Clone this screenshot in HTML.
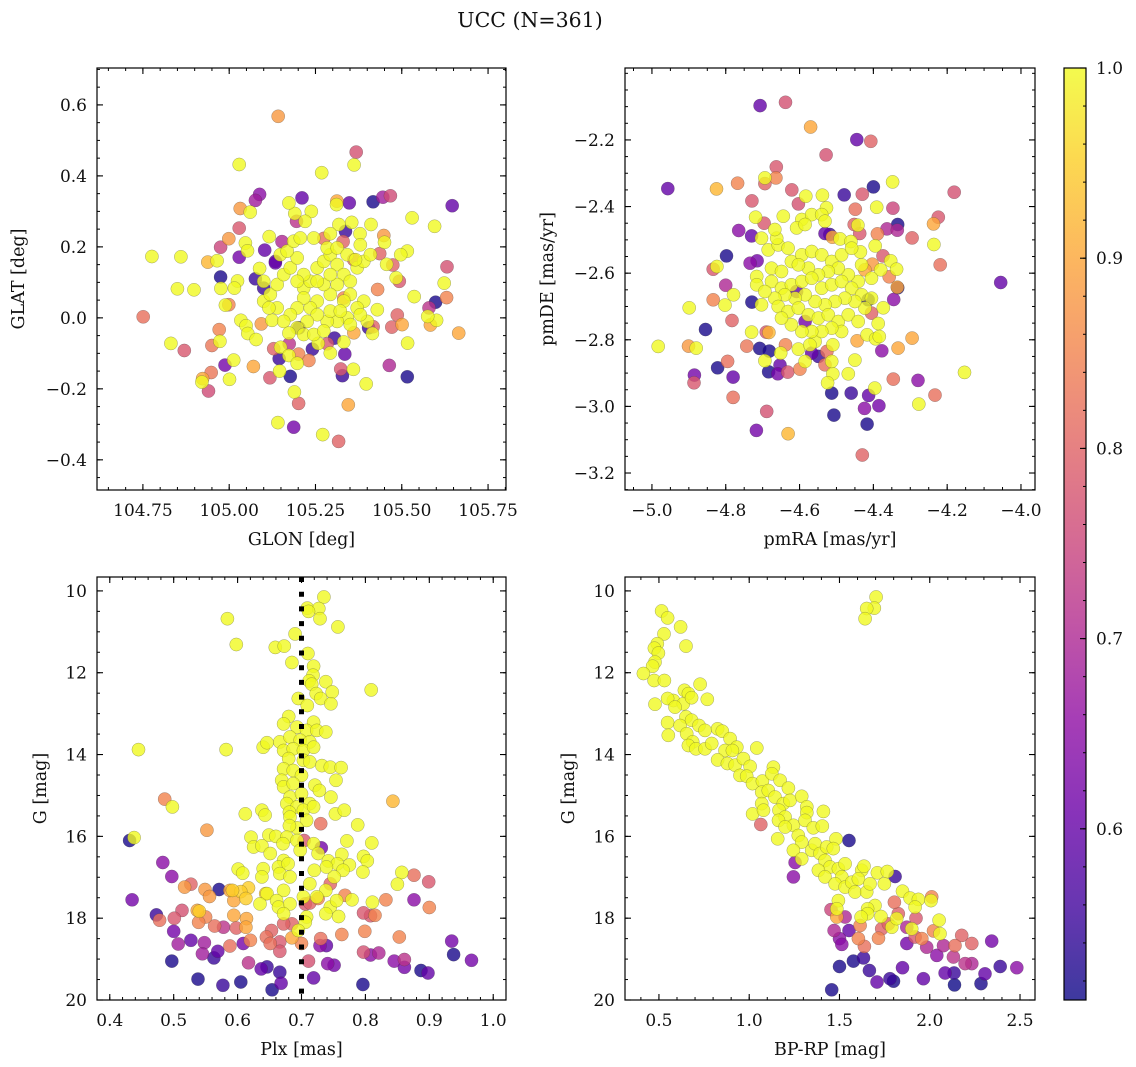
<!DOCTYPE html>
<html><head><meta charset="utf-8"><title>UCC (N=361)</title>
<style>
html,body{margin:0;padding:0;background:#fff;}
svg{display:block;font-family:"DejaVu Serif","Liberation Serif",serif;}
</style></head>
<body>
<svg id="fig" xmlns="http://www.w3.org/2000/svg" width="1136" height="1067" viewBox="0 0 1136 1067">
<text x="530" y="27" font-size="20.5" text-anchor="middle" fill="#111">UCC (N=361)</text>
</svg>
<script>
// ---- data: [x, y, membership probability] ----
const glonGlatProb = [
[105.142,0.568,.88],[105.368,0.467,.77],[105.029,0.432,1],[105.362,0.431,1],[105.268,0.409,1],[105.088,0.348,.65],[105.076,0.331,.68],[105.211,0.338,.6],[105.348,0.324,.6],[105.417,0.327,.52],[105.445,0.340,.68],[105.467,0.344,.76],[105.646,0.316,.6],[105.032,0.308,.88],[105.061,0.298,1],[105.530,0.282,1],[105.595,0.258,1],[105.029,0.253,.78],[104.999,0.223,.88],[104.975,0.199,.75],[105.029,0.171,.62],[104.776,0.173,1],[104.860,0.172,1],[104.938,0.157,.92],[104.965,0.161,1],[104.975,0.115,.52],[104.850,0.082,1],[104.898,0.079,1],[104.751,0.003,.82],[104.831,-0.072,1],[104.870,-0.092,.78],[104.971,-0.033,.85],[104.973,-0.066,1],[104.950,-0.078,.83],[104.988,-0.133,.62],[105.013,-0.119,1],[104.948,-0.154,.83],[104.923,-0.171,.9],[104.921,-0.181,1],[104.940,-0.206,.76],[105.001,-0.173,1],[105.070,-0.137,.9],[105.118,-0.169,.78],[105.146,-0.150,1],[105.177,-0.165,.52],[105.189,-0.209,1],[105.201,-0.241,.8],[105.141,-0.295,1],[105.187,-0.308,.62],[105.271,-0.329,1],[105.317,-0.348,.8],[105.345,-0.245,.9],[105.328,-0.163,.55],[105.323,-0.144,.78],[105.360,-0.145,1],[105.397,-0.186,1],[105.464,-0.134,.7],[105.516,-0.166,.52],[105.517,-0.071,1],[105.665,-0.043,.9],[105.583,-0.020,.9],[105.601,-0.007,1],[105.575,0.004,1],[105.579,0.028,.72],[105.598,0.044,.52],[105.630,0.057,.85],[105.536,0.060,1],[105.623,0.098,1],[105.631,0.144,.77],[105.487,0.008,.8],[105.501,-0.019,.9],[105.471,-0.026,.8],[105.430,0.080,.85],[105.429,0.023,1],[105.493,0.103,.78],[105.484,0.113,1],[105.474,0.149,.8],[105.456,0.151,1],[105.516,0.188,1],[105.497,0.178,1],[105.436,0.181,.8],[105.448,0.232,.88],[105.450,0.213,1],[105.411,0.263,1],[105.379,0.237,1],[105.355,0.269,1],[105.330,0.215,.8],[105.312,0.329,.9],[105.311,0.319,1],[105.318,0.263,1],[105.274,0.224,.82],[105.293,0.237,1],[105.238,0.300,1],[105.190,0.294,1],[105.173,0.324,1],[105.220,0.272,1],[105.195,0.272,.72],[105.153,0.215,.7],[105.116,0.229,1],[105.047,0.211,1],[105.053,0.189,1],[105.103,0.191,.6],[105.134,0.159,.6],[105.088,0.139,1],[105.076,0.110,.55],[105.024,0.104,1],[105.015,0.084,1],[104.976,0.083,1],[104.989,0.036,1],[104.999,0.037,.85],[105.034,-0.007,1],[105.049,-0.022,1],[105.054,-0.044,1],[105.078,-0.061,1],[105.093,-0.017,.88],[105.124,-0.007,1],[105.129,-0.087,.8],[105.149,-0.083,1],[105.174,-0.073,.72],[105.145,-0.115,.55],[105.173,-0.106,1],[105.197,-0.128,1],[105.201,-0.102,.85],[105.231,-0.120,.85],[105.241,-0.088,.55],[105.258,-0.072,1],[105.284,-0.073,.78],[105.293,-0.099,1],[105.305,-0.057,.55],[105.332,-0.068,1],[105.335,-0.102,.6],[105.361,-0.042,.9],[105.415,-0.044,1],[105.417,-0.025,.8],[105.400,-0.010,1],
[105.100,0.047,1],[105.119,0.066,1],[105.139,0.094,1],[105.158,0.122,1],[105.177,0.141,1],[105.197,0.169,1],[105.216,0.084,1],[105.235,0.103,1],[105.255,0.141,1],[105.274,0.159,1],[105.293,0.178,1],[105.313,0.150,1],[105.332,0.122,1],[105.351,0.103,1],[105.371,0.141,1],[105.390,0.159,1],[105.409,0.178,1],[105.390,0.047,1],[105.371,0.028,1],[105.351,0.066,1],[105.332,0.047,1],[105.313,0.094,1],[105.293,0.066,1],[105.274,0.094,1],[105.255,0.047,1],[105.235,0.028,1],[105.216,0.056,1],[105.197,0.028,1],[105.177,0.009,1],[105.158,-0.010,1],[105.139,0.028,1],[105.115,0.028,1],[105.100,0.103,1],[105.148,0.178,1],[105.168,0.188,1],[105.187,0.216,1],[105.206,0.225,1],[105.245,0.225,1],[105.284,0.197,1],[105.313,0.197,1],[105.342,0.178,1],[105.366,0.164,1],[105.380,0.206,1],[105.342,0.000,1],[105.313,-0.010,1],[105.284,-0.010,1],[105.255,0.009,1],[105.226,-0.010,1],[105.197,-0.028,1],[105.173,-0.043,1],[105.216,-0.047,1],[105.245,-0.047,1],[105.274,-0.037,1],[105.293,0.019,1],[105.322,0.019,1],[105.351,-0.019,1],[105.380,0.009,1],[105.216,0.122,1],[105.197,0.103,1],[105.255,0.103,1],[105.293,0.122,1],
[105.134,0.155,.6],[105.100,0.084,.55],[105.202,-0.028,.55],[105.404,-0.028,.55],[105.337,0.244,.55],[105.361,0.164,.8],[105.332,0.056,.85]
];
const pmraPmdeProb = [
[-4.707,-2.097,.6],[-4.638,-2.087,.77],[-4.570,-2.161,.9],[-4.445,-2.199,.6],[-4.407,-2.204,.8],[-4.528,-2.245,.77],[-4.663,-2.281,.78],[-4.957,-2.346,.6],[-4.825,-2.347,.92],[-4.768,-2.330,.85],[-4.694,-2.314,1],[-4.664,-2.314,.85],[-4.694,-2.331,.8],[-4.621,-2.350,.78],[-4.583,-2.369,1],[-4.538,-2.366,1],[-4.479,-2.365,.55],[-4.430,-2.363,.78],[-4.400,-2.341,.52],[-4.348,-2.326,1],[-4.181,-2.357,.77],[-4.729,-2.383,.78],[-4.603,-2.392,.77],[-4.527,-2.404,1],[-4.449,-2.408,.82],[-4.391,-2.402,1],[-4.347,-2.405,.75],[-4.224,-2.432,.78],[-4.237,-2.452,.9],[-4.236,-2.514,1],[-4.219,-2.575,.82],[-4.295,-2.494,.8],[-4.055,-2.628,.6],[-4.719,-2.432,1],[-4.696,-2.450,.78],[-4.765,-2.472,.65],[-4.730,-2.488,.6],[-4.798,-2.548,.52],[-4.834,-2.588,.78],[-4.824,-2.580,1],[-4.734,-2.570,.65],[-4.715,-2.563,.62],[-4.800,-2.636,.7],[-4.729,-2.687,.52],[-4.834,-2.680,.85],[-4.802,-2.696,1],[-4.779,-2.665,1],[-4.899,-2.704,1],[-4.783,-2.742,.8],[-4.855,-2.769,.52],[-4.983,-2.820,1],[-4.901,-2.819,.88],[-4.880,-2.825,1],[-4.822,-2.884,.52],[-4.795,-2.865,.82],[-4.885,-2.906,.62],[-4.886,-2.929,.78],[-4.780,-2.912,.6],[-4.780,-2.973,.82],[-4.689,-3.015,.77],[-4.717,-3.072,.62],[-4.631,-3.082,.92],[-4.743,-2.819,.83],[-4.708,-2.826,.52],[-4.682,-2.834,.52],[-4.694,-2.863,1],[-4.684,-2.896,.52],[-4.653,-2.876,.6],[-4.659,-2.902,.62],[-4.632,-2.897,.78],[-4.599,-2.888,.85],[-4.638,-2.815,.85],[-4.651,-2.840,1],[-4.730,-2.777,1],[-4.690,-2.777,.78],[-4.683,-2.778,.92],[-4.513,-2.960,.52],[-4.507,-3.026,.52],[-4.460,-2.960,.55],[-4.413,-2.967,.6],[-4.396,-2.945,1],[-4.424,-3.006,.65],[-4.385,-2.998,.62],[-4.417,-3.053,.52],[-4.430,-3.146,.8],[-4.346,-2.918,.82],[-4.279,-2.922,.65],[-4.277,-2.993,1],[-4.233,-2.966,.82],[-4.153,-2.898,1],[-4.333,-2.825,.9],[-4.295,-2.795,.9],[-4.377,-2.833,.65],[-4.345,-2.679,.65],[-4.334,-2.644,.52],[-4.335,-2.642,.9],[-4.373,-2.704,1],[-4.353,-2.563,1],[-4.337,-2.588,1],[-4.357,-2.611,.85],[-4.374,-2.548,.78],[-4.380,-2.590,1],[-4.403,-2.573,.88],[-4.423,-2.590,.9],[-4.389,-2.482,.85],[-4.334,-2.454,.52],[-4.363,-2.467,.7],[-4.335,-2.471,.7],[-4.437,-2.481,.78],[-4.452,-2.454,.8],[-4.442,-2.456,1],[-4.518,-2.484,.55],[-4.531,-2.481,.6],[-4.511,-2.492,.9],[-4.490,-2.497,1],[-4.461,-2.505,1],[-4.435,-2.536,1],[-4.395,-2.518,1],[-4.444,-2.803,.9],[-4.417,-2.785,1],[-4.394,-2.797,1],[-4.384,-2.790,1],[-4.450,-2.861,1],[-4.468,-2.902,1],[-4.510,-2.902,1],[-4.524,-2.929,1],[-4.513,-2.865,1],[-4.531,-2.875,.82],[-4.549,-2.850,.55],[-4.567,-2.840,.6],[-4.585,-2.865,1],[-4.603,-2.828,1],[-4.558,-2.805,1],[-4.572,-2.815,1],[-4.510,-2.815,1],[-4.526,-2.835,.82],[-4.387,-2.751,1],[-4.405,-2.720,.8],
[-4.685,-2.530,1],[-4.658,-2.515,1],[-4.631,-2.525,1],[-4.662,-2.495,1],[-4.703,-2.495,1],[-4.667,-2.469,1],[-4.644,-2.429,1],[-4.594,-2.439,1],[-4.567,-2.424,1],[-4.540,-2.424,1],[-4.608,-2.464,1],[-4.585,-2.454,1],[-4.531,-2.444,1],[-4.676,-2.585,1],[-4.649,-2.595,1],[-4.622,-2.565,1],[-4.594,-2.545,1],[-4.567,-2.535,1],[-4.540,-2.545,1],[-4.513,-2.565,1],[-4.486,-2.545,1],[-4.459,-2.525,1],[-4.432,-2.575,1],[-4.405,-2.615,1],[-4.441,-2.625,1],[-4.468,-2.605,1],[-4.495,-2.585,1],[-4.522,-2.595,1],[-4.549,-2.605,1],[-4.576,-2.585,1],[-4.603,-2.575,1],[-4.716,-2.610,1],[-4.716,-2.635,1],[-4.676,-2.625,1],[-4.649,-2.645,1],[-4.622,-2.635,1],[-4.594,-2.625,1],[-4.567,-2.615,1],[-4.540,-2.645,1],[-4.513,-2.635,1],[-4.486,-2.625,1],[-4.459,-2.645,1],[-4.432,-2.665,1],[-4.405,-2.675,1],[-4.423,-2.705,1],[-4.450,-2.685,1],[-4.477,-2.675,1],[-4.504,-2.685,1],[-4.531,-2.695,1],[-4.558,-2.685,1],[-4.585,-2.665,1],[-4.612,-2.675,1],[-4.640,-2.665,1],[-4.667,-2.675,1],[-4.694,-2.655,1],[-4.703,-2.695,1],[-4.658,-2.700,1],[-4.631,-2.715,1],[-4.603,-2.705,1],[-4.576,-2.725,1],[-4.549,-2.735,1],[-4.522,-2.725,1],[-4.495,-2.745,1],[-4.468,-2.725,1],[-4.441,-2.745,1],[-4.486,-2.775,1],[-4.513,-2.765,1],[-4.540,-2.775,1],[-4.567,-2.775,1],[-4.594,-2.775,1],[-4.622,-2.755,1],[-4.649,-2.735,1],
[-4.608,-2.655,.6],[-4.414,-2.680,.52],[-4.585,-2.745,.62]
];
const plxGmagProb = [
[0.735,10.15,1],[0.709,10.42,1],[0.727,10.43,1],[0.711,10.50,1],[0.729,10.68,1],[0.757,10.88,1],[0.690,11.05,1],[0.584,10.68,1],[0.598,11.31,1],[0.659,11.38,1],[0.673,11.35,1],[0.685,11.75,1],[0.710,11.53,1],[0.719,11.84,1],[0.718,12.06,1],[0.712,12.20,1],[0.738,12.22,1],[0.716,12.28,1],[0.748,12.47,1],[0.723,12.51,1],[0.730,12.63,1],[0.746,12.76,1],[0.695,12.63,1],[0.709,12.80,1],[0.809,12.42,1],
[0.680,13.07,1],[0.719,13.21,1],[0.672,13.25,1],[0.693,13.33,1],[0.708,13.41,1],[0.724,13.41,1],[0.738,13.45,1],[0.666,13.69,1],[0.682,13.57,1],[0.698,13.65,1],[0.713,13.69,1],[0.640,13.82,1],[0.646,13.71,1],[0.672,13.90,1],[0.687,13.86,1],[0.703,13.90,1],[0.719,13.82,1],[0.680,14.10,1],[0.703,14.14,1],[0.713,14.18,1],[0.732,14.27,1],[0.745,14.31,1],[0.762,14.32,1],[0.672,14.35,1],[0.687,14.39,1],[0.700,14.51,1],[0.721,14.75,1],[0.728,14.88,1],[0.754,14.63,1],[0.669,14.63,1],[0.672,14.79,1],[0.687,14.71,1],[0.682,15.04,1],[0.700,14.96,1],[0.713,15.20,1],[0.746,15.04,1],[0.677,15.20,1],[0.693,15.28,1],[0.703,15.36,1],[0.719,15.28,1],[0.681,15.41,1],[0.682,15.53,1],[0.708,15.61,1],[0.612,15.45,1],[0.638,15.36,1],[0.643,15.48,1],[0.753,15.45,1],[0.767,15.36,1],[0.693,15.79,1],[0.681,15.74,1],[0.788,15.72,1],[0.621,16.02,1],[0.649,15.97,1],[0.660,16.00,1],[0.677,16.02,1],[0.693,16.10,1],[0.625,16.26,1],[0.638,16.23,1],[0.651,16.42,1],[0.671,16.18,1],[0.698,16.34,1],[0.719,16.18,1],[0.726,16.42,1],[0.742,16.60,1],[0.771,16.11,1],[0.810,16.16,1],[0.763,16.44,1],[0.797,16.49,1],[0.803,16.60,1],[0.775,16.70,1],[0.756,16.67,1],[0.765,16.83,1],[0.751,16.99,1],[0.739,16.75,1],[0.720,16.83,1],[0.713,17.16,1],[0.672,16.59,1],[0.664,16.75,1],[0.679,16.67,1],[0.640,16.79,1],[0.638,16.99,1],[0.666,16.91,1],[0.682,16.99,1],[0.601,16.80,1],[0.608,16.90,1],[0.672,17.32,1],[0.646,17.40,1],[0.661,17.57,1],[0.703,17.48,1],[0.738,17.32,1],[0.724,17.48,1],[0.745,17.73,1],[0.755,17.57,1],[0.779,17.55,1],[0.796,16.87,1],[0.857,16.88,1],[0.850,17.17,1],[0.635,17.65,1],[0.664,17.73,1],[0.682,17.65,1],[0.672,17.89,1],[0.708,17.97,1],[0.706,18.10,1],[0.695,18.30,1],[0.738,17.89,1],[0.758,17.96,1],[0.811,17.61,1],[0.644,17.40,.95],[0.617,17.26,.95],[0.605,17.35,.95],[0.592,17.32,.95],[0.613,17.52,.95],[0.594,17.57,.9],[0.540,17.83,.95],[0.843,15.14,.92],
[0.445,13.88,1],[0.582,13.88,1],[0.486,15.09,.85],[0.498,15.28,1],[0.552,15.85,.88],[0.431,16.10,.52],[0.438,16.03,1],[0.483,16.64,.65],[0.497,16.98,.65],[0.517,17.24,.88],[0.527,17.17,.8],[0.571,17.30,.52],[0.549,17.30,.88],[0.556,17.47,.88],[0.588,17.32,.9],[0.435,17.55,.62],[0.473,17.92,.55],[0.478,18.05,.82],[0.501,18.00,.78],[0.513,17.81,.77],[0.537,17.81,.9],[0.550,17.97,.85],[0.539,18.10,.85],[0.564,18.19,.82],[0.578,18.22,.72],[0.598,18.24,.8],[0.594,17.93,.9],[0.614,18.01,.9],[0.613,18.22,.9],[0.500,18.32,.62],[0.507,18.63,.68],[0.527,18.54,.6],[0.548,18.60,.68],[0.545,18.87,.68],[0.569,18.81,.6],[0.563,18.97,.55],[0.497,19.05,.52],[0.538,19.49,.52],[0.577,19.64,.55],[0.605,19.56,.52],[0.617,19.09,.72],[0.637,19.24,.6],[0.646,19.19,.55],[0.666,19.32,.55],[0.654,19.75,.52],[0.668,19.59,.6],[0.588,18.68,.82],[0.609,18.62,.62],[0.620,18.54,.85],[0.645,18.46,.82],[0.651,18.62,.82],[0.666,18.58,.78],[0.666,18.81,.78],[0.685,18.48,.9],[0.700,18.62,.85],[0.706,17.65,.78],[0.713,17.63,.8],[0.704,16.10,.78],[0.731,16.28,.62],[0.730,15.69,.82],[0.711,19.05,.77],[0.719,19.46,.6],[0.730,18.50,.82],[0.729,18.67,.65],[0.739,18.67,.6],[0.741,19.11,.65],[0.751,19.15,.62],[0.763,18.40,.85],[0.799,18.32,.85],[0.797,18.83,.77],[0.808,18.90,.65],[0.821,18.85,.7],[0.796,19.62,.52],[0.845,19.05,.65],[0.861,19.01,.72],[0.861,19.20,.62],[0.853,18.46,.85],[0.887,19.28,.52],[0.898,19.34,.6],[0.935,18.56,.62],[0.938,18.89,.52],[0.966,19.03,.62],[0.876,17.55,.65],[0.876,16.95,.82],[0.899,17.11,.78],[0.900,17.74,.85],[0.832,17.55,.85],[0.815,17.93,.85],[0.808,17.94,.78],[0.797,17.87,.78],[0.768,17.44,.85],[0.745,17.16,.8],[0.726,17.52,.85],[0.685,18.14,.8],[0.672,18.14,.8],[0.653,18.30,.8]
];
const bprpGmagProb = [
[0.515,10.49,1],[0.548,10.66,1],[0.620,10.88,1],[0.528,11.05,1],[0.650,11.35,1],[0.491,11.29,1],[0.475,11.40,1],[0.497,11.52,1],[0.478,11.74,1],[0.465,11.84,1],[0.414,12.02,1],[0.473,12.19,1],[0.530,12.19,1],[0.478,12.77,1],[0.728,12.28,1],[0.641,12.43,1],[0.663,12.51,1],[0.580,12.68,1],[0.548,12.63,1],[0.635,12.76,1],[0.681,12.61,1],[0.768,12.65,1],[0.589,12.84,1],[0.548,13.22,1],[0.650,13.08,1],[0.617,13.29,1],[0.552,13.53,1],[0.681,13.16,1],[0.722,13.29,1],[0.755,13.41,1],[0.654,13.49,1],[0.687,13.69,1],[0.663,13.78,1],[0.705,13.86,1],[0.755,13.86,1],[0.792,13.73,1],[0.825,13.37,1],[0.851,13.43,1],[0.894,13.61,1],[0.931,13.82,1],[0.866,13.90,1],[0.907,13.90,1],[0.825,14.13,1],[0.879,14.22,1],[0.922,14.26,1],[0.968,14.10,1],[1.005,14.29,1],[0.949,14.51,1],[0.986,14.53,1],[1.042,13.84,1],[1.018,14.71,1],[1.073,14.65,1],[1.134,14.31,1],[1.125,14.47,1],[1.171,14.63,1],[1.069,14.92,1],[1.106,14.88,1],[1.143,15.04,1],[1.217,14.82,1],[1.189,15.20,1],[1.069,15.20,1],[1.019,15.45,1],[1.079,15.36,1],[1.165,15.36,1],[1.226,15.12,1],[1.291,15.02,1],[1.319,15.28,1],[1.319,15.42,1],[1.411,15.39,1],[1.199,15.53,1],[1.162,15.61,1],[1.245,15.73,1],[1.199,15.77,1],[1.309,15.61,1],[1.355,15.79,1],[1.405,15.75,1],[1.158,16.06,1],[1.272,15.98,1],[1.291,16.14,1],[1.245,16.34,1],[1.291,16.55,1],[1.346,16.34,1],[1.365,16.18,1],[1.392,16.42,1],[1.429,16.26,1],[1.481,16.06,1],[1.466,16.30,1],[1.420,16.59,1],[1.448,16.75,1],[1.383,16.83,1],[1.420,16.99,1],[1.494,16.79,1],[1.531,16.67,1],[1.513,16.99,1],[1.476,17.16,1],[1.531,17.24,1],[1.568,17.12,1],[1.586,17.36,1],[1.623,16.83,1],[1.636,16.73,1],[1.605,17.04,1],[1.651,17.36,1],[1.669,17.16,1],[1.710,16.89,1],[1.749,17.16,1],[1.765,16.86,1],[1.697,17.69,1],[1.656,17.77,1],[1.730,17.96,1],[1.790,18.22,1],[1.817,18.01,1],[1.849,17.34,1],[1.891,17.51,1],[1.937,17.54,1],[1.919,17.73,1],[2.007,17.57,1],[2.052,18.05,1],[1.900,18.26,1],[2.057,18.38,1],[1.656,17.89,1],[1.620,17.97,1],[1.494,17.57,1],[1.485,17.97,.9],[1.485,17.77,1],
[1.703,10.15,1],[1.693,10.42,1],[1.651,10.43,1],[1.642,10.68,1],
[1.064,15.71,.8],[1.553,16.10,.52],[1.254,16.64,.65],[1.245,16.99,.65],[1.808,16.98,.55],[1.453,17.79,.75],[1.531,17.97,.7],[1.470,18.30,.7],[1.500,18.50,.65],[1.513,18.64,.65],[1.553,18.30,.6],[1.605,18.50,.85],[1.638,18.69,.82],[1.614,18.18,.85],[1.716,18.49,.85],[1.734,18.26,.8],[1.771,18.14,.8],[1.804,17.61,.82],[1.826,17.89,.8],[1.873,18.22,.7],[1.919,18.46,.78],[1.924,18.00,.78],[1.956,18.50,.85],[2.021,18.31,.85],[2.011,17.48,.85],[1.873,18.62,.62],[1.983,18.71,.7],[2.039,18.91,.65],[2.076,18.67,.7],[2.131,18.95,.72],[2.140,18.67,.82],[2.177,18.42,.8],[2.233,18.62,.8],[2.196,19.11,.72],[2.233,19.11,.7],[2.343,18.56,.62],[2.306,19.36,.6],[2.390,19.18,.55],[2.482,19.21,.65],[2.284,19.60,.52],[2.137,19.63,.5],[2.135,19.34,.55],[2.085,19.34,.6],[1.965,19.48,.6],[1.849,19.21,.6],[1.799,19.54,.52],[1.780,19.48,.55],[1.708,19.56,.6],[1.666,19.28,.55],[1.633,18.97,.55],[1.577,19.05,.52],[1.500,19.18,.52],[1.457,19.75,.52]
];
// tick values / labels
const glonTicks = [104.75,105.00,105.25,105.50,105.75];
const glonTickLabels = ['104.75','105.00','105.25','105.50','105.75'];
const glatTicks = [-0.4,-0.2,0.0,0.2,0.4,0.6];
const glatTickLabels = ['\u22120.4','\u22120.2','0.0','0.2','0.4','0.6'];
const pmraTicks = [-5.0,-4.8,-4.6,-4.4,-4.2,-4.0];
const pmraTickLabels = ['\u22125.0','\u22124.8','\u22124.6','\u22124.4','\u22124.2','\u22124.0'];
const pmdeTicks = [-3.2,-3.0,-2.8,-2.6,-2.4,-2.2];
const pmdeTickLabels = ['\u22123.2','\u22123.0','\u22122.8','\u22122.6','\u22122.4','\u22122.2'];
const plxTicks = [0.4,0.5,0.6,0.7,0.8,0.9,1.0];
const plxTickLabels = ['0.4','0.5','0.6','0.7','0.8','0.9','1.0'];
const gTicks = [10,12,14,16,18,20];
const gTickLabels = ['10','12','14','16','18','20'];
const bprpTicks = [0.5,1.0,1.5,2.0,2.5];
const bprpTickLabels = ['0.5','1.0','1.5','2.0','2.5'];
const cbarTicks = [0.6,0.7,0.8,0.9,1.0];
const cbarTickLabels = ['0.6','0.7','0.8','0.9','1.0'];
const plxCut = 0.7;
const cMin = 0.51, cMax = 1.0;

const NS = 'http://www.w3.org/2000/svg';
const svg = document.getElementById('fig');
function mk(tag, attrs, parent){
  const e = document.createElementNS(NS, tag);
  for (const k in attrs) e.setAttribute(k, attrs[k]);
  (parent||svg).appendChild(e);
  return e;
}
const plasma = [[13,8,135],[65,4,157],[106,0,168],[143,13,164],[177,42,144],[204,71,120],[225,100,98],[242,132,75],[252,166,54],[252,206,37],[240,249,33]];
function cmap(v){
  let t = (v - cMin)/(cMax - cMin); t = Math.max(0, Math.min(1, t));
  const f = t*10, i = Math.min(9, Math.floor(f)), r = f - i;
  const a = plasma[i], b = plasma[i+1];
  return 'rgb(' + [0,1,2].map(k => Math.round(a[k] + (b[k]-a[k])*r)).join(',') + ')';
}
const TICK_FS = 17, TITLE_FS = 17.5;

function panel(o){
  const g = mk('g', {});
  
  
  const sx = v => o.L + (v - o.dx0)/(o.dx1 - o.dx0)*(o.R - o.L);
  const sy = v => o.B - (v - o.dy0)/(o.dy1 - o.dy0)*(o.B - o.T);
  const cp = 'clip-' + o.name;
  const cl = mk('clipPath', {id: cp}, g);
  mk('rect', {x:o.L, y:o.T, width:o.R-o.L, height:o.B-o.T}, cl);
  const pg = mk('g', {'clip-path':'url(#'+cp+')'}, g);
  
  
  const pts = o.pts.map((p,i)=>({p,i})).sort((a,b)=>a.p[2]-b.p[2] || a.i-b.i);
  pts.forEach(({p}) => {
    const c = mk('circle', {cx: sx(p[0]).toFixed(1), cy: sy(p[1]).toFixed(1), r: 6.6, fill: cmap(p[2]), 'fill-opacity': 0.8, stroke: 'rgba(60,60,60,0.45)', 'stroke-width': 0.5}, pg);
    
    
  });
  if (o.extra) o.extra(g, sx, sy);
  const fr = mk('rect', {x:o.L, y:o.T, width:o.R-o.L, height:o.B-o.T, fill:'none', stroke:'#000', 'stroke-width':1.2}, g);
  
  
  const lo = Math.ceil(o.dx0/o.xm - 1e-9), hi = Math.floor(o.dx1/o.xm + 1e-9);
  for (let k = lo; k <= hi; k++){ const x = sx(k*o.xm);
    mk('line', {x1:x, x2:x, y1:o.B, y2:o.B-3, stroke:'#000', 'stroke-width':1}, g);
    mk('line', {x1:x, x2:x, y1:o.T, y2:o.T+3, stroke:'#000', 'stroke-width':1}, g); }
  const ya = Math.min(o.dy0,o.dy1), yb = Math.max(o.dy0,o.dy1);
  const lo2 = Math.ceil(ya/o.ym - 1e-9), hi2 = Math.floor(yb/o.ym + 1e-9);
  for (let k = lo2; k <= hi2; k++){ const y = sy(k*o.ym);
    mk('line', {x1:o.L, x2:o.L+3, y1:y, y2:y, stroke:'#000', 'stroke-width':1}, g);
    mk('line', {x1:o.R, x2:o.R-3, y1:y, y2:y, stroke:'#000', 'stroke-width':1}, g); }
  o.xt.forEach((v,i) => { const x = sx(v);
    mk('line', {x1:x, x2:x, y1:o.B, y2:o.B-6, stroke:'#000', 'stroke-width':1.1}, g);
    mk('line', {x1:x, x2:x, y1:o.T, y2:o.T+6, stroke:'#000', 'stroke-width':1.1}, g);
    const t = mk('text', {x:x, y:o.B+26, 'font-size':TICK_FS, 'text-anchor':'middle', fill:'#111'}, g);
    t.textContent = o.xl[i];
    
     });
  o.yt.forEach((v,i) => { const y = sy(v);
    mk('line', {x1:o.L, x2:o.L+6, y1:y, y2:y, stroke:'#000', 'stroke-width':1.1}, g);
    mk('line', {x1:o.R, x2:o.R-6, y1:y, y2:y, stroke:'#000', 'stroke-width':1.1}, g);
    const t = mk('text', {x:o.L-10, y:y+6, 'font-size':TICK_FS, 'text-anchor':'end', fill:'#111'}, g);
    t.textContent = o.yl[i];
    
     });
  const xt = mk('text', {x:(o.L+o.R)/2, y:o.B+55, 'font-size':TITLE_FS, 'text-anchor':'middle', fill:'#111'}, g);
  xt.textContent = o.xTitle;
  
  
  const yx = o.yTitleX, yy = (o.T+o.B)/2;
  const yt = mk('text', {x:yx, y:yy, 'font-size':TITLE_FS, 'text-anchor':'middle', fill:'#111', transform:'rotate(-90 '+yx+' '+yy+')'}, g);
  yt.textContent = o.yTitle;
  
  
}

panel({name:'glon-glat-panel', L:97, R:506, T:68, B:490, dx0:104.617, dx1:105.802, dy0:-0.485, dy1:0.704,
  xm:0.05, ym:0.05, xt:glonTicks, xl:glonTickLabels, yt:glatTicks, yl:glatTickLabels,
  xTitle:'GLON [deg]', yTitle:'GLAT [deg]', yTitleX:24, pts:glonGlatProb});
panel({name:'pmra-pmde-panel', L:625, R:1035, T:68, B:490, dx0:-5.073, dx1:-3.962, dy0:-3.251, dy1:-1.984,
  xm:0.05, ym:0.05, xt:pmraTicks, xl:pmraTickLabels, yt:pmdeTicks, yl:pmdeTickLabels,
  xTitle:'pmRA [mas/yr]', yTitle:'pmDE [mas/yr]', yTitleX:553, pts:pmraPmdeProb});
panel({name:'plx-g-panel', L:97, R:506, T:577, B:1000, dx0:0.38, dx1:1.02, dy0:20, dy1:9.66,
  xm:0.02, ym:0.5, xt:plxTicks, xl:plxTickLabels, yt:gTicks, yl:gTickLabels,
  xTitle:'Plx [mas]', yTitle:'G [mag]', yTitleX:46, pts:plxGmagProb,
  extra:(g, sx, sy) => { const x = sx(plxCut);
    const l = mk('line', {x1:x, x2:x, y1:sy(9.66), y2:sy(20), stroke:'#000', 'stroke-width':5, 'stroke-dasharray':'5 9.7'}, g);
    
     }});
panel({name:'cmd-panel', L:625, R:1035, T:577, B:1000, dx0:0.312, dx1:2.583, dy0:20, dy1:9.66,
  xm:0.1, ym:0.5, xt:bprpTicks, xl:bprpTickLabels, yt:gTicks, yl:gTickLabels,
  xTitle:'BP-RP [mag]', yTitle:'G [mag]', yTitleX:574, pts:bprpGmagProb});

(function(){
  const L = 1064, R = 1086, T = 68, B = 1000;
  const g = mk('g', {});
  
  
  const defs = mk('defs', {}, g);
  const lg = mk('linearGradient', {id:'cbgrad', x1:0, y1:1, x2:0, y2:0}, defs);
  for (let i = 0; i <= 20; i++){
    const v = cMin + (cMax-cMin)*i/20;
    mk('stop', {offset: (i/20).toFixed(3), 'stop-color': cmap(v), 'stop-opacity': 0.8}, lg);
  }
  const r = mk('rect', {x:L, y:T, width:R-L, height:B-T, fill:'url(#cbgrad)', stroke:'#000', 'stroke-width':1.2}, g);
  
  
  const sy = v => B - (v - cMin)/(cMax - cMin)*(B - T);
  for (let k = 26; k <= 50; k++){ const v = k*0.02; if (v < cMin || v > cMax + 1e-9) continue;
    const y = sy(v); mk('line', {x1:R, x2:R-3, y1:y, y2:y, stroke:'#000', 'stroke-width':1}, g); }
  cbarTicks.forEach((v,i) => { const y = sy(v);
    mk('line', {x1:R, x2:R-6, y1:y, y2:y, stroke:'#000', 'stroke-width':1.1}, g);
    const t = mk('text', {x:R+10, y:y+6, 'font-size':TICK_FS, fill:'#111'}, g);
    t.textContent = cbarTickLabels[i];
    
     });
})();
</script>
</body></html>
